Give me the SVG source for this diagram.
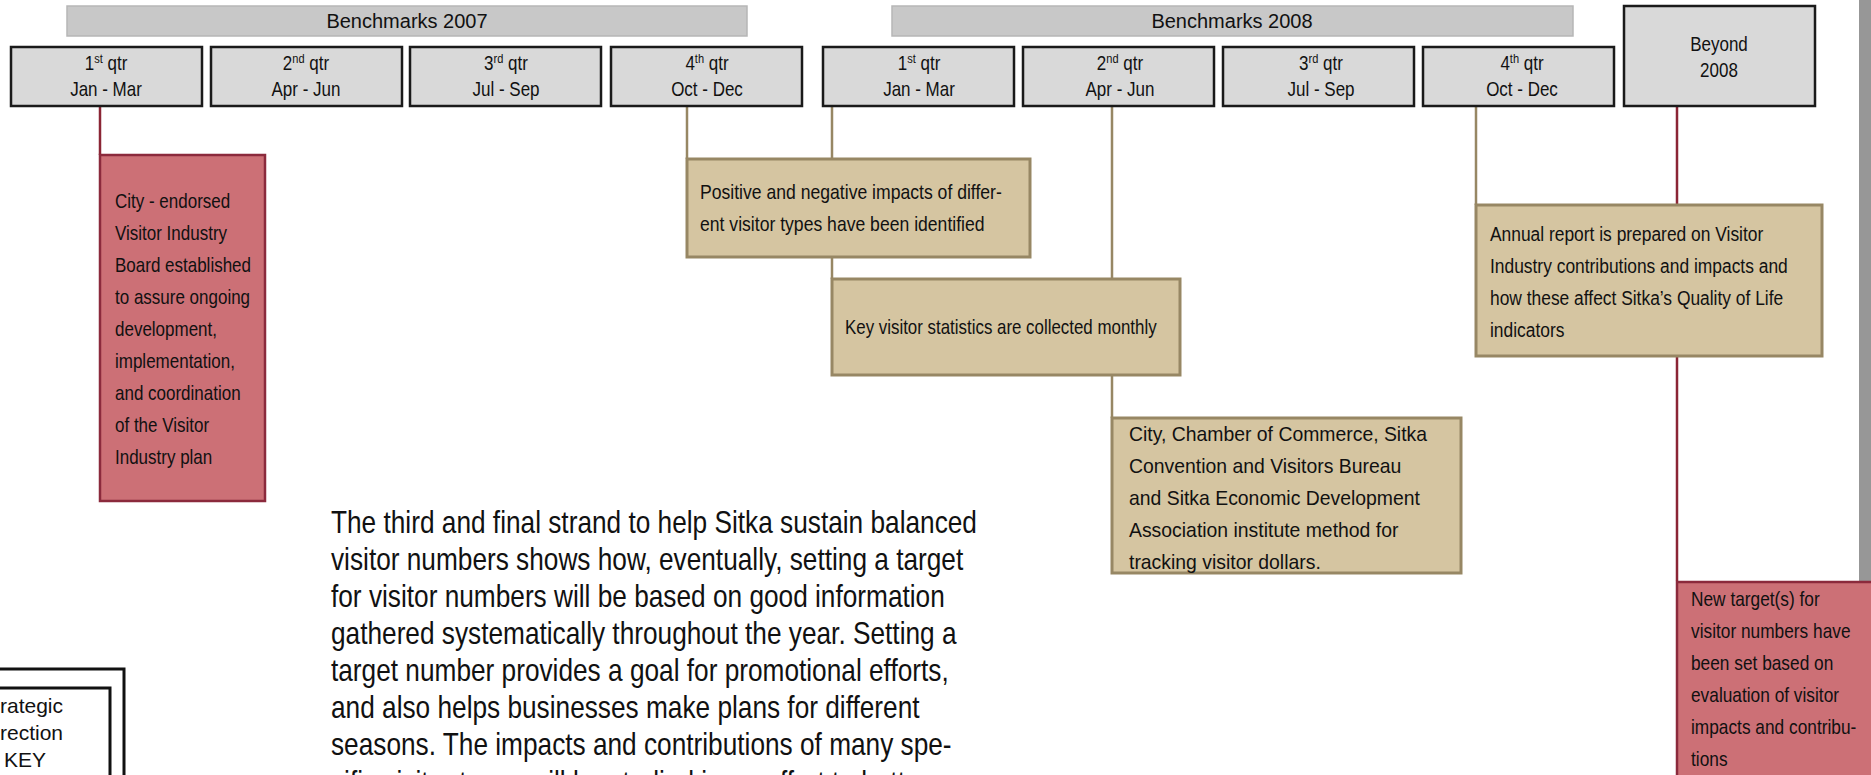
<svg xmlns="http://www.w3.org/2000/svg" width="1871" height="775" viewBox="0 0 1871 775">
<style>
.q{fill:#d9d9d9;stroke:#1a1a1a;stroke-width:2.5}
.bench{fill:#c8c8c8;stroke:#b6b6b6;stroke-width:1.5}
.pink{fill:#cc7076;stroke:#8b2a3c;stroke-width:2.5}
.tan{fill:#d5c5a1;stroke:#978764;stroke-width:3}
.t{font-family:"Liberation Sans",Arial,sans-serif;font-size:20px;fill:#111}
.c{text-anchor:middle}
.body{font-family:"Liberation Sans",Arial,sans-serif;font-size:32px;fill:#111}
.key{font-family:"Liberation Sans",Arial,sans-serif;font-size:21px;fill:#111}
.lt{stroke:#978764;stroke-width:2.5;fill:none}
.lm{stroke:#8b2535;stroke-width:2.5;fill:none}
.sup{font-size:13px}
</style>
<rect x="0" y="0" width="1871" height="775" fill="#ffffff"/>
<g id="connectors">
<line class="lm" x1="100" y1="106" x2="100" y2="155"/>
<line class="lt" x1="687" y1="106" x2="687" y2="159"/>
<line class="lt" x1="832" y1="106" x2="832" y2="279"/>
<line class="lt" x1="1112" y1="106" x2="1112" y2="418"/>
<line class="lt" x1="1476" y1="106" x2="1476" y2="205"/>
<line class="lm" x1="1677" y1="106" x2="1677" y2="581"/>
</g>
<rect id="scrollbar" x="1859" y="-2" width="14" height="584" fill="#979797"/>
<g id="bench2007">
<rect class="bench" x="67" y="6" width="680" height="30"/>
<text class="t c" x="407" y="28">Benchmarks 2007</text>
</g>
<g id="bench2008">
<rect class="bench" x="892" y="6" width="681" height="30"/>
<text class="t c" x="1232" y="28">Benchmarks 2008</text>
</g>
<g id="q1-2007">
<rect class="q" x="11" y="47" width="191" height="59"/>
<g transform="translate(106,0) scale(0.85,1)">
<text class="t c" x="0" y="70">1<tspan class="sup" dy="-7">st</tspan><tspan dy="7"> qtr</tspan></text>
<text class="t c" x="0" y="96">Jan - Mar</text>
</g>
</g>
<g id="q2-2007">
<rect class="q" x="211" y="47" width="191" height="59"/>
<g transform="translate(306,0) scale(0.85,1)">
<text class="t c" x="0" y="70">2<tspan class="sup" dy="-7">nd</tspan><tspan dy="7"> qtr</tspan></text>
<text class="t c" x="0" y="96">Apr - Jun</text>
</g>
</g>
<g id="q3-2007">
<rect class="q" x="410" y="47" width="191" height="59"/>
<g transform="translate(506,0) scale(0.85,1)">
<text class="t c" x="0" y="70">3<tspan class="sup" dy="-7">rd</tspan><tspan dy="7"> qtr</tspan></text>
<text class="t c" x="0" y="96">Jul - Sep</text>
</g>
</g>
<g id="q4-2007">
<rect class="q" x="611" y="47" width="191" height="59"/>
<g transform="translate(707,0) scale(0.85,1)">
<text class="t c" x="0" y="70">4<tspan class="sup" dy="-7">th</tspan><tspan dy="7"> qtr</tspan></text>
<text class="t c" x="0" y="96">Oct - Dec</text>
</g>
</g>
<g id="q1-2008">
<rect class="q" x="823" y="47" width="191" height="59"/>
<g transform="translate(919,0) scale(0.85,1)">
<text class="t c" x="0" y="70">1<tspan class="sup" dy="-7">st</tspan><tspan dy="7"> qtr</tspan></text>
<text class="t c" x="0" y="96">Jan - Mar</text>
</g>
</g>
<g id="q2-2008">
<rect class="q" x="1023" y="47" width="191" height="59"/>
<g transform="translate(1120,0) scale(0.85,1)">
<text class="t c" x="0" y="70">2<tspan class="sup" dy="-7">nd</tspan><tspan dy="7"> qtr</tspan></text>
<text class="t c" x="0" y="96">Apr - Jun</text>
</g>
</g>
<g id="q3-2008">
<rect class="q" x="1223" y="47" width="191" height="59"/>
<g transform="translate(1321,0) scale(0.85,1)">
<text class="t c" x="0" y="70">3<tspan class="sup" dy="-7">rd</tspan><tspan dy="7"> qtr</tspan></text>
<text class="t c" x="0" y="96">Jul - Sep</text>
</g>
</g>
<g id="q4-2008">
<rect class="q" x="1423" y="47" width="191" height="59"/>
<g transform="translate(1522,0) scale(0.85,1)">
<text class="t c" x="0" y="70">4<tspan class="sup" dy="-7">th</tspan><tspan dy="7"> qtr</tspan></text>
<text class="t c" x="0" y="96">Oct - Dec</text>
</g>
</g>
<g id="beyond">
<rect class="q" x="1624" y="6" width="191" height="100"/>
<g transform="translate(1719,0) scale(0.85,1)">
<text class="t c" x="0" y="51">Beyond</text>
<text class="t c" x="0" y="77">2008</text>
</g>
</g>
<g id="board">
<rect class="pink" x="100" y="155" width="165" height="346"/>
<g transform="translate(115,0) scale(0.85,1)">
<text class="t" x="0" y="208">City - endorsed</text>
<text class="t" x="0" y="240">Visitor Industry</text>
<text class="t" x="0" y="272">Board established</text>
<text class="t" x="0" y="304">to assure ongoing</text>
<text class="t" x="0" y="336">development,</text>
<text class="t" x="0" y="368">implementation,</text>
<text class="t" x="0" y="400">and coordination</text>
<text class="t" x="0" y="432">of the Visitor</text>
<text class="t" x="0" y="464">Industry plan</text>
</g>
</g>
<g id="impacts">
<rect class="tan" x="687" y="159" width="343" height="98"/>
<g transform="translate(700,0) scale(0.88,1)">
<text class="t" x="0" y="199">Positive and negative impacts of differ-</text>
<text class="t" x="0" y="231">ent visitor types have been identified</text>
</g>
</g>
<g id="statistics">
<rect class="tan" x="832" y="279" width="348" height="96"/>
<g transform="translate(845,0) scale(0.845,1)">
<text class="t" x="0" y="334">Key visitor statistics are collected monthly</text>
</g>
</g>
<g id="dollars">
<rect class="tan" x="1112" y="418" width="349" height="155"/>
<g transform="translate(1129,0) scale(0.97,1)">
<text class="t" x="0" y="441">City, Chamber of Commerce, Sitka</text>
<text class="t" x="0" y="473">Convention and Visitors Bureau</text>
<text class="t" x="0" y="505">and Sitka Economic Development</text>
<text class="t" x="0" y="537">Association institute method for</text>
<text class="t" x="0" y="569">tracking visitor dollars.</text>
</g>
</g>
<g id="annual">
<rect class="tan" x="1476" y="205" width="346" height="151"/>
<g transform="translate(1490,0) scale(0.87,1)">
<text class="t" x="0" y="241">Annual report is prepared on Visitor</text>
<text class="t" x="0" y="273">Industry contributions and impacts and</text>
<text class="t" x="0" y="305">how these affect Sitka’s Quality of Life</text>
<text class="t" x="0" y="337">indicators</text>
</g>
</g>
<g id="target">
<rect class="pink" x="1677" y="582" width="210" height="210"/>
<g transform="translate(1691,0) scale(0.865,1)">
<text class="t" x="0" y="606">New target(s) for</text>
<text class="t" x="0" y="638">visitor numbers have</text>
<text class="t" x="0" y="670">been set based on</text>
<text class="t" x="0" y="702">evaluation of visitor</text>
<text class="t" x="0" y="734">impacts and contribu-</text>
<text class="t" x="0" y="766">tions</text>
</g>
</g>
<g id="key">
<rect x="-10" y="669" width="134" height="130" fill="#ffffff" stroke="#111" stroke-width="3"/>
<rect x="-10" y="688" width="120" height="110" fill="#ffffff" stroke="#111" stroke-width="3"/>
<text class="key" x="0" y="713">rategic</text>
<text class="key" x="0" y="740">rection</text>
<text class="key" x="4" y="767">KEY</text>
</g>
<g id="description">
<g transform="translate(331,0) scale(0.82,1)">
<text class="body" x="0" y="533">The third and final strand to help Sitka sustain balanced</text>
<text class="body" x="0" y="570">visitor numbers shows how, eventually, setting a target</text>
<text class="body" x="0" y="607">for visitor numbers will be based on good information</text>
<text class="body" x="0" y="644">gathered systematically throughout the year. Setting a</text>
<text class="body" x="0" y="681">target number provides a goal for promotional efforts,</text>
<text class="body" x="0" y="718">and also helps businesses make plans for different</text>
<text class="body" x="0" y="755">seasons. The impacts and contributions of many spe-</text>
<text class="body" x="0" y="793">cific visitor types will be studied in an effort to better</text>
</g>
</g>
</svg>
